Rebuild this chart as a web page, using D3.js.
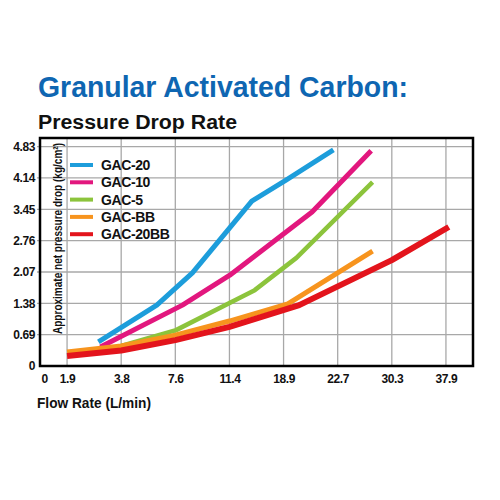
<!DOCTYPE html>
<meta charset="utf-8">
<style>
  body { margin: 0; background: #fff; }
  text { font-family: "Liberation Sans", Arial, Helvetica, sans-serif; font-weight: bold; }
  .grid line { stroke: #a8a8a8; stroke-width: 1.3px; }
  .axis path, .axis line { display: none; }
  .axis text { font-size: 12px; fill: #111; letter-spacing: -0.4px; }
  .series { fill: none; stroke-linejoin: round; stroke-linecap: butt; }
</style>
<svg width="500" height="500"></svg>
<script src="https://cdnjs.cloudflare.com/ajax/libs/d3/7.8.5/d3.min.js"></script>
<script>

// tick labels
var xTicks = [0, 1.9, 3.8, 7.6, 11.4, 18.9, 22.7, 30.3, 37.9];
var yTicks = [0, 0.69, 1.38, 2.07, 2.76, 3.45, 4.14, 4.83];

// series: flow (L/min) and pressure drop (kg/cm2)
var seriesNames = ["GAC-20", "GAC-10", "GAC-5", "GAC-BB", "GAC-20BB"];
var seriesColors = ["#1d9ddb", "#e2177e", "#8cc43c", "#f7941e", "#e3141c"];

var gac20Flow = [3.0, 6.3, 8.8, 14.5, 19.1, 22.4];
var gac20Drop = [0.53, 1.34, 2.05, 3.63, 4.10, 4.76];

var gac10Flow = [3.07, 8.1, 11.45, 20.9, 27.4];
var gac10Drop = [0.42, 1.34, 2.00, 3.39, 4.74];

var gac5Flow = [3.8, 7.65, 14.9, 19.8, 27.6];
var gac5Drop = [0.44, 0.79, 1.67, 2.38, 4.05];

var gacBBFlow = [1.9, 3.8, 7.6, 11.4, 19.2, 27.6];
var gacBBDrop = [0.31, 0.44, 0.68, 0.99, 1.37, 2.53];

var gac20BBFlow = [1.9, 3.8, 7.6, 11.4, 20.0, 30.3, 38.3];
var gac20BBDrop = [0.22, 0.34, 0.57, 0.86, 1.34, 2.33, 3.06];

var svg = d3.select("svg"),
    margin = {top: 138, left: 40},
    width = 433,
    height = 228;

var step = width / 8;

// x axis is not linear: 0 at the edge, then evenly spaced ticks half a step in
var xDomain = xTicks.concat([37.9 + 7.6 * 0.5]);
var xRange = xDomain.map(function (d, i) { return i === 0 ? 0 : step * (i - 0.5); });
xRange[xRange.length - 1] = width;

var x = d3.scaleLinear().domain(xDomain).range(xRange),
    y = d3.scaleLinear().domain([0, 5.02]).range([height, 0]);

var data = [
  {flow: gac20Flow, drop: gac20Drop, w: 5},
  {flow: gac10Flow, drop: gac10Drop, w: 5},
  {flow: gac5Flow, drop: gac5Drop, w: 4.5},
  {flow: gacBBFlow, drop: gacBBDrop, w: 5},
  {flow: gac20BBFlow, drop: gac20BBDrop, w: 6}
].map(function (s, i) {
  s.name = seriesNames[i];
  s.color = seriesColors[i];
  s.values = s.flow.map(function (f, j) { return {flow: f, drop: s.drop[j]}; });
  return s;
});

// titles
svg.append("text")
    .attr("x", 38).attr("y", 97)
    .attr("font-size", 30)
    .attr("fill", "#0e66b2")
    .attr("textLength", 370)
    .attr("lengthAdjust", "spacingAndGlyphs")
    .text("Granular Activated Carbon:");

svg.append("text")
    .attr("x", 38).attr("y", 129)
    .attr("font-size", 20)
    .attr("fill", "#111")
    .attr("textLength", 199)
    .attr("lengthAdjust", "spacingAndGlyphs")
    .text("Pressure Drop Rate");

var g = svg.append("g")
    .attr("transform", "translate(" + margin.left + "," + margin.top + ")");

// grid
g.append("g").attr("class", "grid")
  .selectAll("line").data(yTicks.slice(1)).enter().append("line")
    .attr("x1", -3).attr("x2", width)
    .attr("y1", function (d) { return y(d); })
    .attr("y2", function (d) { return y(d); });

g.append("g").attr("class", "grid")
  .selectAll("line").data(xTicks.slice(1)).enter().append("line")
    .attr("x1", function (d) { return x(d); })
    .attr("x2", function (d) { return x(d); })
    .attr("y1", 0).attr("y2", height);

// axes (labels only)
var xAxis = g.append("g").attr("class", "axis")
    .attr("transform", "translate(0," + height + ")")
    .call(d3.axisBottom(x).tickValues(xTicks).tickSize(0).tickPadding(8)
      .tickFormat(function (d) { return d === 0 ? "0" : d3.format(".1f")(d); }));
xAxis.selectAll("text").filter(function (d) { return d === 0; })
    .attr("text-anchor", "start").attr("x", 1);

g.append("g").attr("class", "axis")
    .call(d3.axisLeft(y).tickValues(yTicks).tickSize(0).tickPadding(5)
      .tickFormat(function (d) { return d === 0 ? "0" : d3.format(".2f")(d); }));

// y axis title
svg.append("text")
    .attr("transform", "translate(62,334) rotate(-90)")
    .attr("font-size", 13.5)
    .attr("fill", "#111")
    .attr("textLength", 191)
    .attr("lengthAdjust", "spacingAndGlyphs")
    .text("Approximate net pressure drop  (kg/cm²)");

// x axis title
svg.append("text")
    .attr("x", 37).attr("y", 408)
    .attr("font-size", 15)
    .attr("fill", "#111")
    .attr("textLength", 114)
    .attr("lengthAdjust", "spacingAndGlyphs")
    .text("Flow Rate (L/min)");

// lines
var line = d3.line()
    .x(function (d) { return x(d.flow); })
    .y(function (d) { return y(d.drop); });

g.selectAll(".series").data(data).enter().append("path")
    .attr("class", "series")
    .attr("stroke", function (d) { return d.color; })
    .attr("stroke-width", function (d) { return d.w; })
    .attr("d", function (d) { return line(d.values); });

// legend
var legend = svg.append("g").attr("transform", "translate(70,165)");
var item = legend.selectAll("g").data(data).enter().append("g")
    .attr("transform", function (d, i) { return "translate(0," + (i * 17.3) + ")"; });
item.append("line")
    .attr("x1", 0).attr("x2", 23)
    .attr("stroke", function (d) { return d.color; })
    .attr("stroke-width", 4);
item.append("text")
    .attr("x", 31).attr("y", 5)
    .attr("font-size", 14)
    .attr("letter-spacing", -0.4)
    .attr("fill", "#111")
    .text(function (d) { return d.name; });

// frame
g.append("rect")
    .attr("width", width).attr("height", height)
    .attr("fill", "none")
    .attr("stroke", "#000")
    .attr("stroke-width", 2.5);

</script>
</html>
